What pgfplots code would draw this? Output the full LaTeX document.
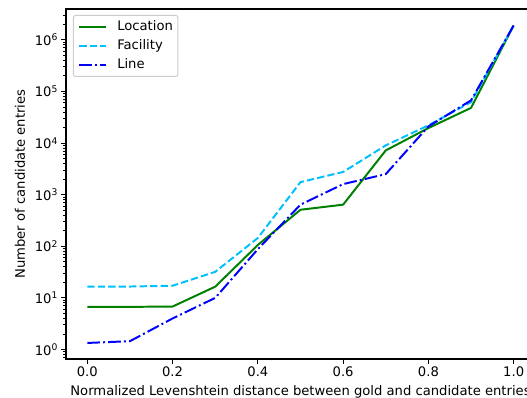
\documentclass[border=0pt]{standalone}
\usepackage{pgfplots}
\pgfplotsset{compat=1.18}
\usepackage{fontspec}
\setmainfont{DejaVu Sans}
\definecolor{mgreen}{rgb}{0,0.5,0}
\definecolor{mdsb}{rgb}{0,0.749,1}
\pgfplotstableread{
x loc fac lin
0.0 6.7 16.5 1.34
0.1 6.7 16.6 1.45
0.2 6.8 17.2 4.0
0.3 16.5 32 10.0
0.4 106 145 88
0.5 510 1750 640
0.6 640 2750 1600
0.7 7200 9000 2500
0.8 19500 22000 21000
0.9 48000 62000 67000
1.0 1.9e6 1.9e6 1.9e6
}\datatab
\begin{document}
\begin{tikzpicture}
\begin{axis}[
 name=ax,
 scale only axis, width=469pt, height=350pt,
 xmin=-0.05, xmax=1.05, ymode=log, ymin=0.655, ymax=3.95e6,
 font=\fontsize{13.15}{15.8}\selectfont,
 /pgf/number format/assume math mode=true,
 xtick={0,0.2,0.4,0.6,0.8,1},
 xticklabel style={/pgf/number format/.cd, fixed, fixed zerofill, precision=1},
 log number format basis/.code 2 args={#1\textsuperscript{\pgfmathprintnumber{#2}}},
 tick align=outside, tick pos=left,
 major tick length=4.6pt, minor tick length=2.6pt,
 every tick/.style={black, line width=1pt},
 minor tick style={line width=0.8pt},
 axis line style={line width=1.05pt},
 xlabel={Normalized Levenshtein distance between gold and candidate entries},
 ylabel={Number of candidate entries},
 xlabel style={at={(axis description cs:0.5,-0.0943)}, anchor=center},
 ylabel style={at={(axis description cs:-0.098,0.5)}, anchor=center},
 legend style={at={(axis description cs:0.0149,0.983)}, anchor=north west,
   draw=black!20, fill=white, fill opacity=0.8, text opacity=1,
   rounded corners=2pt, line width=1pt, inner xsep=5pt, inner ysep=5pt,
   row sep=6.6pt, column sep=10.5pt,
   nodes={inner sep=0pt, text height=9.8pt, text depth=2.8pt, anchor=base west}},
 legend cell align=left,
 legend image code/.code={\draw[#1] (0pt,3.6pt) -- (26.3pt,3.6pt);},
]
\addplot[mgreen, line width=1.97pt, line join=round] table[x=x,y=loc]{\datatab};
\addlegendentry{Location}
\addplot[mdsb, line width=1.97pt, line join=round, dash pattern=on 7.3pt off 3.16pt] table[x=x,y=fac]{\datatab};
\addlegendentry{Facility}
\addplot[blue, line width=1.97pt, line join=round, dash pattern=on 12.6pt off 3.16pt on 1.97pt off 3.16pt] table[x=x,y=lin]{\datatab};
\addlegendentry{Line}
\end{axis}
\pgfresetboundingbox
\path[use as bounding box] ([xshift=-66pt,yshift=-39pt]ax.south west) rectangle ([xshift=461pt,yshift=9pt]ax.north west);
\end{tikzpicture}
\end{document}
